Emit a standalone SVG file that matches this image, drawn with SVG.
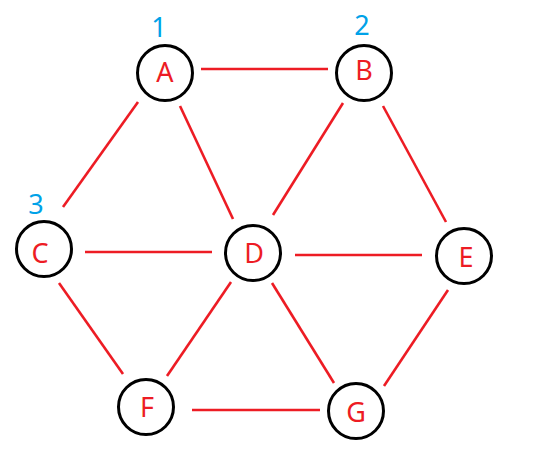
<svg xmlns="http://www.w3.org/2000/svg" width="536" height="463" viewBox="0 0 536 463">
<style>
.node circle{fill:#fff;stroke:#000;stroke-width:3}
.node text{fill:#ed1c24;font-family:"Noto Sans","DejaVu Sans",sans-serif;font-size:27px;text-anchor:middle}
.num{fill:#00a2e8;font-family:"Noto Sans","DejaVu Sans",sans-serif;font-size:27px;text-anchor:middle}
#edges line{stroke:#ed1c24;stroke-width:2.6}
</style>
<rect width="536" height="463" fill="#fff"/>
<g id="edges">
<line x1="201" y1="69" x2="328" y2="69"/>
<line x1="138" y1="102" x2="63" y2="207"/>
<line x1="180" y1="106" x2="233" y2="219"/>
<line x1="343" y1="103" x2="273" y2="215"/>
<line x1="383" y1="106" x2="446" y2="222"/>
<line x1="85" y1="252" x2="212" y2="252"/>
<line x1="295" y1="255" x2="422" y2="255"/>
<line x1="59" y1="283" x2="123" y2="374"/>
<line x1="231" y1="282" x2="167" y2="376"/>
<line x1="272" y1="283" x2="334" y2="383"/>
<line x1="448" y1="290" x2="384" y2="386"/>
<line x1="192" y1="410" x2="320" y2="410"/>
</g>
<g id="nodeA" class="node"><circle cx="165" cy="73" r="27.5"/><text x="165" y="82">A</text></g>
<g id="nodeB" class="node"><circle cx="364" cy="73" r="27.5"/><text x="364" y="80">B</text></g>
<g id="nodeC" class="node"><circle cx="44" cy="249" r="27.5"/><text x="40" y="263">C</text></g>
<g id="nodeD" class="node"><circle cx="253" cy="253" r="27.5"/><text x="254" y="263">D</text></g>
<g id="nodeE" class="node"><circle cx="464" cy="256" r="27.5"/><text x="466" y="267">E</text></g>
<g id="nodeF" class="node"><circle cx="146" cy="407" r="27.5"/><text x="147" y="417">F</text></g>
<g id="nodeG" class="node"><circle cx="356" cy="411" r="27.5"/><text x="356" y="422">G</text></g>
<g id="labels">
<text class="num" x="159" y="37">1</text>
<text class="num" x="362" y="35">2</text>
<text class="num" x="36" y="214">3</text>
</g>
</svg>
